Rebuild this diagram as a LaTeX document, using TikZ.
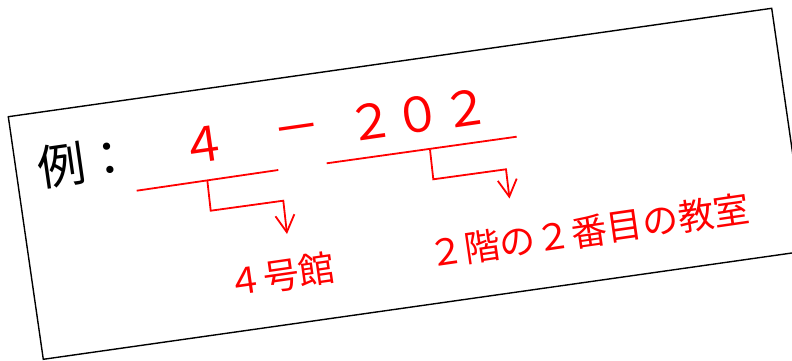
\documentclass[tikz,border=0pt]{standalone}
\usepackage{fontspec}
\newfontfamily\jp{Noto Sans CJK JP}
\usetikzlibrary{arrows.meta}
\begin{document}
\begin{tikzpicture}[x=1pt,y=-1pt,
  lbl/.style={inner sep=0pt,anchor=center,rotate=8.2,font=\jp},
  redline/.style={draw=red,line width=1.8pt},
  conn/.style={redline,-{Straight Barb[length=17pt,width=19pt]}}]
\useasboundingbox (0,0) rectangle (792,361);
\begin{scope}
\clip (0,0) rectangle (792,361);
\draw[line width=1.4pt] (8.3,116.7) -- (771.7,8.3) -- (806.7,250.9) -- (43.3,359.3) -- cycle;
\end{scope}
\node[lbl,font=\jp\fontsize{48}{48}\selectfont] (rei) at (85,162) {例：};
\node[lbl,text=red,font=\jp\fontsize{48}{48}\selectfont] (four) at (203.5,145) {４};
\node[lbl,text=red,font=\jp\fontsize{48}{48}\selectfont] (dash) at (298,135) {－};
\node[lbl,text=red,font=\jp\fontsize{48}{48}\selectfont] (room) at (418,115) {２０２};
\node[lbl,text=red,font=\jp\fontsize{36}{36}\selectfont] (bldg) at (281,275) {４号館};
\node[lbl,text=red,font=\jp\fontsize{36}{36}\selectfont] (desc) at (589,231) {２階の２番目の教室};
\coordinate (u1a) at (136.7,190.7);
\coordinate (u1b) at (278.3,170);
\coordinate (u2a) at (326.7,163.3);
\coordinate (u2b) at (516.7,136.7);
\draw[redline] (u1a) -- (u1b);
\draw[redline] (u2a) -- (u2b);
\coordinate (c1s) at (207.3,180.2);
\coordinate (c1a) at (210.7,210.7);
\coordinate (c1b) at (283.3,200.7);
\coordinate (c1t) at (287,234);
\draw[conn] (c1s) -- (c1a) -- (c1b) -- (c1t);
\coordinate (c2s) at (430,149.5);
\coordinate (c2a) at (433.3,179.3);
\coordinate (c2b) at (506,169.3);
\coordinate (c2t) at (509.5,198.5);
\draw[conn] (c2s) -- (c2a) -- (c2b) -- (c2t);
\end{tikzpicture}
\end{document}
